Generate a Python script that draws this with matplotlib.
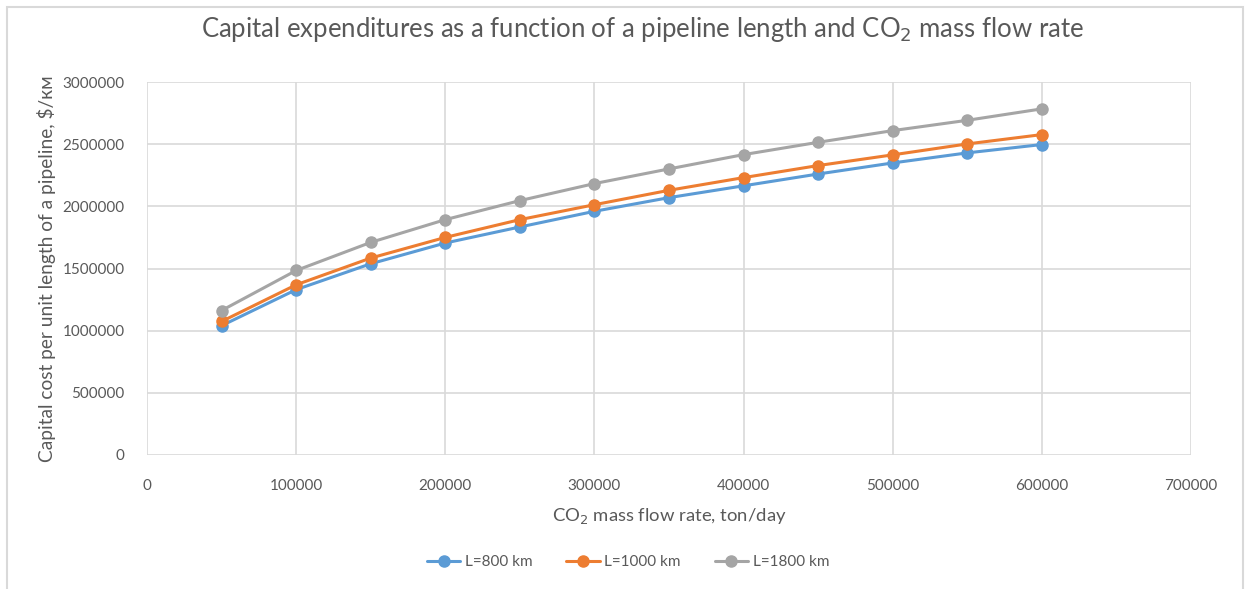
import matplotlib.pyplot as plt
from matplotlib.patches import Rectangle
from matplotlib.ticker import StrMethodFormatter

# CO2 mass flow rate, ton/day
flow = [50000, 100000, 150000, 200000, 250000, 300000,
        350000, 400000, 450000, 500000, 550000, 600000]

# capital cost per km for three pipeline lengths
cost_800 = [1040000, 1330000, 1538000, 1705000, 1834000, 1960000,
            2070000, 2165000, 2260000, 2349000, 2430000, 2497000]
cost_1000 = [1074000, 1369000, 1584000, 1750000, 1893000, 2013000,
             2129000, 2231000, 2328000, 2414000, 2502000, 2577000]
cost_1800 = [1162000, 1484000, 1710000, 1893000, 2046000, 2183000,
             2301000, 2416000, 2515000, 2609000, 2692000, 2784000]

series = [
    ("L=800 km", cost_800, "#5b9bd5"),
    ("L=1000 km", cost_1000, "#ed7d31"),
    ("L=1800 km", cost_1800, "#a5a5a5"),
]

plt.rcParams['font.family'] = ['Lato', 'DejaVu Sans']
txt = "#595959"

fig = plt.figure(figsize=(12.48, 5.89), dpi=100)
ax = fig.add_axes([147 / 1248, 1 - 455 / 589, (1191 - 147) / 1248, (455 - 82) / 589])

for label, vals, col in series:
    ax.plot(flow, vals, color=col, lw=2.2, marker='o', ms=8, label=label,
            solid_capstyle='round')

ax.set_xlim(0, 700000)
ax.set_ylim(0, 3000000)
ax.set_xticks(range(0, 700001, 100000))
ax.set_yticks(range(0, 3000001, 500000))
ax.yaxis.set_major_formatter(StrMethodFormatter("{x:.0f}"))
ax.grid(True, color="#d9d9d9", lw=1.2)
ax.set_axisbelow(True)
for s in ax.spines.values():
    s.set_visible(False)
ax.tick_params(length=0, labelsize=11, labelcolor=txt)
ax.tick_params(axis='y', pad=16)
ax.tick_params(axis='x', pad=17)

ax.set_xlabel("CO$_2$ mass flow rate, ton/day", fontsize=13.3, color=txt, labelpad=10)
ax.set_ylabel("Capital cost per unit length of a pipeline, $/км", fontsize=13.8,
              color=txt)
ax.yaxis.set_label_coords((56 - 147) / 1044, 0.5)
fig.text(0.515, 1 - 30 / 589,
         "Capital expenditures as a function of a pipeline length and CO$_2$ mass flow rate",
         ha='center', va='center', fontsize=18.5, color=txt)

ax.legend(loc='center', bbox_to_anchor=((628 - 147) / 1044, (455 - 562) / 373), ncol=3,
          frameon=False, fontsize=11, labelcolor=txt, handlelength=2.2,
          columnspacing=2.2, handletextpad=0.3)

# chart frame
fig.patches.append(Rectangle((7 / 1248, -0.01), (1243 - 7) / 1248, 1 - 7 / 589 + 0.01,
                             transform=fig.transFigure, fill=False,
                             edgecolor="#d9d9d9", lw=1.5))

fig.savefig("out.png", dpi=100)
